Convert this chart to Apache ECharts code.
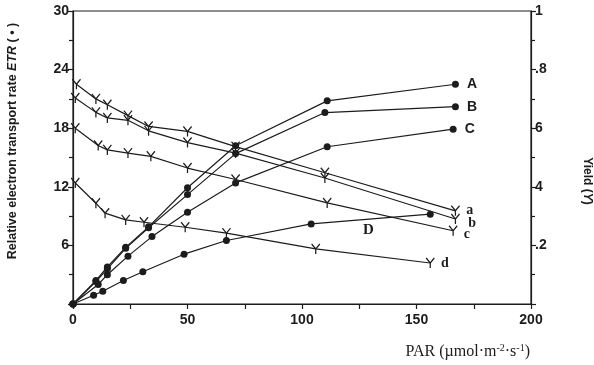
<!DOCTYPE html>
<html>
<head>
<meta charset="utf-8">
<script src="https://cdn.jsdelivr.net/npm/echarts@6/dist/echarts.min.js"></script>
<style>html,body{margin:0;padding:0;background:#fff}#c{width:594px;height:365px}</style>
</head>
<body>
<div id="c"></div>
<script>
// ETR series (filled dots), PAR in µmol·m-2·s-1
const parA = [0, 10, 15, 23, 33, 50, 71, 111, 167];
const etrA = [0, 2.4, 3.8, 5.8, 7.9, 11.9, 16.2, 20.8, 22.5];
const parB = [0, 10, 15, 23, 33, 50, 71, 110, 167];
const etrB = [0, 2.3, 3.6, 5.7, 7.8, 11.2, 15.4, 19.6, 20.2];
const parC = [0, 11, 15, 24, 34.5, 50, 71, 111, 166];
const etrC = [0, 2.0, 3.0, 4.9, 6.9, 9.4, 12.4, 16.1, 17.9];
const parD = [0, 9, 13, 22, 30.5, 48.5, 67, 104, 156];
const etrD = [0, 0.9, 1.3, 2.4, 3.3, 5.1, 6.5, 8.2, 9.2];
// Yield series (Y markers)
const para = [1.5, 10, 15, 24, 33, 50, 71, 110, 167];
const yielda = [0.75, 0.70, 0.68, 0.643, 0.606, 0.589, 0.537, 0.448, 0.318];
const parb = [1, 10, 15, 24, 33, 50, 71, 110, 167];
const yieldb = [0.703, 0.654, 0.635, 0.627, 0.591, 0.551, 0.515, 0.43, 0.29];
const parc = [1, 11, 15, 24, 34, 50, 71, 111, 166];
const yieldc = [0.60, 0.541, 0.526, 0.515, 0.504, 0.464, 0.425, 0.345, 0.25];
const pard = [1, 10, 14, 23, 31, 49, 67, 106, 156];
const yieldd = [0.413, 0.344, 0.31, 0.287, 0.279, 0.262, 0.242, 0.188, 0.14];
// tick labels
const xTicks = [0, 50, 100, 150, 200];
const etrTicks = [0, 6, 12, 18, 24, 30];
const etrTickLabels = ['', '6', '12', '18', '24', '30'];
const yieldTicks = [0, 0.2, 0.4, 0.6, 0.8, 1];
const yieldTickLabels = ['', '.2', '4', '6', '.8', '1'];

const INK = '#1c1c1c';
const sans = 'Liberation Sans, Arial, sans-serif';
const serif = 'Liberation Serif, Times New Roman, serif';
const ySym = 'path://M0,0L5,5.5L10,0M5,5.5L5,11';

function build(px, py, name, lab) {
  return px.map((p, i) => {
    if (name && i === px.length - 1) {
      return { value: [p, py[i]], label: Object.assign({ show: true, formatter: name }, lab) };
    }
    return [p, py[i]];
  });
}

function etrSeries(px, py, name) {
  return {
    type: 'line', yAxisIndex: 0, symbol: 'circle', symbolSize: 7,
    lineStyle: { color: INK, width: 1.2 }, itemStyle: { color: INK },
    data: build(px, py, name, { position: 'right', distance: 8, color: INK, fontFamily: sans, fontWeight: 'bold', fontSize: 14 }),
    z: 3, animation: false
  };
}
function yieldSeries(px, py, name, off) {
  return {
    type: 'line', yAxisIndex: 1, symbol: ySym, symbolSize: [9, 10], symbolKeepAspect: true,
    lineStyle: { color: INK, width: 1.2 },
    itemStyle: { color: 'rgba(0,0,0,0)', borderColor: INK, borderWidth: 1.3 },
    data: build(px, py, name, { position: 'right', distance: 4, offset: off, color: INK, fontFamily: serif, fontWeight: 'bold', fontSize: 14 }),
    z: 2, animation: false
  };
}

const chart = echarts.init(document.getElementById('c'), null, { renderer: 'canvas' });
const dSeries = etrSeries(parD, etrD, '');
dSeries.markPoint = {
  symbol: 'circle', symbolSize: 0, animation: false,
  label: { show: true, formatter: 'D', color: INK, fontFamily: serif, fontWeight: 'bold', fontSize: 15, position: 'inside' },
  data: [{ coord: [129, 7.6] }]
};

chart.setOption({
  backgroundColor: '#fff',
  animation: false,
  grid: { left: 73, right: 63, top: 11, bottom: 61, show: true, borderColor: INK, borderWidth: 1.2, backgroundColor: 'transparent' },
  xAxis: {
    type: 'value', min: xTicks[0], max: xTicks[xTicks.length - 1], interval: 50,
    axisLine: { show: true, lineStyle: { color: INK, width: 1.2 } },
    axisTick: { show: true, inside: false, length: 5, lineStyle: { color: INK, width: 1.2 } },
    minorTick: { show: true, splitNumber: 2, length: 5, lineStyle: { color: INK, width: 1.2 } },
    splitLine: { show: false },
    axisLabel: { color: INK, fontFamily: sans, fontWeight: 'bold', fontSize: 14, margin: 9, showMinLabel: true, showMaxLabel: true }
  },
  yAxis: [
    {
      type: 'value', position: 'left', min: etrTicks[0], max: etrTicks[etrTicks.length - 1], interval: 6,
      axisLine: { show: true, lineStyle: { color: INK, width: 1.2 } },
      axisTick: { show: true, inside: false, length: 5, lineStyle: { color: INK, width: 1.2 } },
      minorTick: { show: true, splitNumber: 2, length: 4, lineStyle: { color: INK, width: 1.2 } },
      splitLine: { show: false },
      axisLabel: { color: INK, fontFamily: sans, fontWeight: 'bold', fontSize: 14, margin: 4,
        formatter: v => { const k = etrTicks.indexOf(v); return k >= 0 ? etrTickLabels[k] : ''; } }
    },
    {
      type: 'value', position: 'right', min: yieldTicks[0], max: yieldTicks[yieldTicks.length - 1], interval: 0.2,
      axisLine: { show: true, lineStyle: { color: INK, width: 1.2 } },
      axisTick: { show: true, inside: false, length: 5, lineStyle: { color: INK, width: 1.2 } },
      minorTick: { show: true, splitNumber: 2, length: 4, lineStyle: { color: INK, width: 1.2 } },
      splitLine: { show: false },
      axisLabel: { color: INK, fontFamily: sans, fontWeight: 'bold', fontSize: 14, margin: 4,
        formatter: v => { const k = Math.round(v / 0.2); return yieldTickLabels[k] || ''; } }
    }
  ],
  graphic: [
    {
      type: 'text', x: 530, y: 352,
      style: {
        text: 'PAR (µmol·m{s|-2}·s{s|-1})', align: 'right', verticalAlign: 'middle',
        fontFamily: serif, fontSize: 16, fill: INK,
        rich: { s: { fontSize: 10, fontFamily: serif, verticalAlign: 'top', padding: [0, 0, 8, 0], fill: INK } }
      }
    },
    {
      type: 'text', x: 13, y: 141, rotation: Math.PI / 2,
      style: {
        text: 'Relative electron transport rate {i|ETR} ( • )', align: 'center', verticalAlign: 'middle',
        fontFamily: sans, fontWeight: 'bold', fontSize: 12.5, fill: INK,
        rich: { i: { fontStyle: 'italic', fontWeight: 'bold', fontFamily: sans, fontSize: 12.5, fill: INK } }
      }
    },
    {
      type: 'text', x: 587, y: 181, rotation: -Math.PI / 2,
      style: {
        text: 'Yield ({i|Y})', align: 'center', verticalAlign: 'middle',
        fontFamily: sans, fontWeight: 'bold', fontSize: 12, fill: INK,
        rich: { i: { fontStyle: 'italic', fontWeight: 'bold', fontFamily: sans, fontSize: 12, fill: INK } }
      }
    }
  ],
  series: [
    etrSeries(parA, etrA, 'A'),
    etrSeries(parB, etrB, 'B'),
    etrSeries(parC, etrC, 'C'),
    dSeries,
    yieldSeries(para, yielda, 'a', [2, 0]),
    yieldSeries(parb, yieldb, 'b', [4, 4]),
    yieldSeries(parc, yieldc, 'c', [2, 4]),
    yieldSeries(pard, yieldd, 'd', [2, 0])
  ]
});
</script>
</body>
</html>
